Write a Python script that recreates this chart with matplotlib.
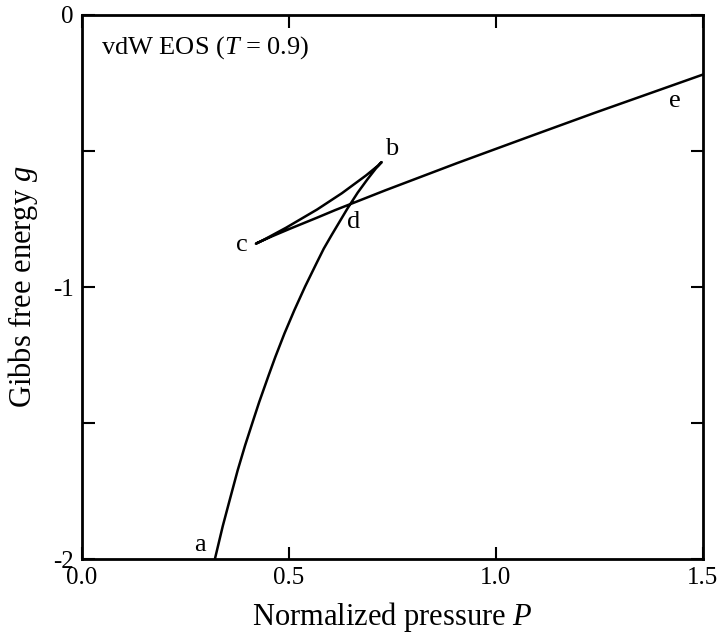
import matplotlib
matplotlib.use("Agg")
import matplotlib.pyplot as plt

plt.rcParams['font.family'] = ['Liberation Serif', 'DejaVu Serif']
plt.rcParams['mathtext.fontset'] = 'custom'
plt.rcParams['mathtext.rm'] = 'Liberation Serif'
plt.rcParams['mathtext.it'] = 'Liberation Serif:italic'
plt.rcParams['axes.unicode_minus'] = False

# Gibbs free energy along the vdW isotherm (gas -> unstable -> liquid)
pressure = [0.321, 0.340, 0.355, 0.376, 0.394, 0.414, 0.428, 0.451, 0.467, 0.489,
            0.513, 0.539, 0.567, 0.584, 0.603, 0.641, 0.666, 0.690, 0.710, 0.721,
            0.724, 0.722, 0.715, 0.686, 0.628, 0.568, 0.493, 0.442, 0.427, 0.420,
            0.423, 0.435, 0.460, 0.502, 0.568, 0.612, 0.732, 0.907, 1.088, 1.238,
            1.500]
gibbs = [-2.000, -1.879, -1.793, -1.674, -1.582, -1.488, -1.423, -1.324, -1.257, -1.171,
         -1.085, -0.998, -0.911, -0.859, -0.809, -0.712, -0.653, -0.603, -0.564, -0.546,
         -0.541, -0.543, -0.554, -0.590, -0.655, -0.715, -0.782, -0.824, -0.836, -0.841,
         -0.838, -0.830, -0.813, -0.786, -0.745, -0.717, -0.645, -0.544, -0.443, -0.360,
         -0.219]

point_labels = ['a', 'b', 'c', 'd', 'e']
label_P = [0.285, 0.748, 0.387, 0.657, 1.432]
label_g = [-1.949, -0.493, -0.846, -0.761, -0.316]

xticks = [0.0, 0.5, 1.0, 1.5]
xticklabels = ['0.0', '0.5', '1.0', '1.5']
yticks = [-2, -1.5, -1, -0.5, 0]
yticklabels = ['-2', '', '-1', '', '0']

fig = plt.figure(figsize=(7.22, 6.38), dpi=100)
ax = fig.add_axes([0.1136, 0.1238, 0.86, 0.8527])

ax.plot(pressure, gibbs, color='black', lw=1.8)

for lab, px, gy in zip(point_labels, label_P, label_g):
    ax.text(px, gy, lab, fontsize=19, ha='center', va='center')

ax.text(0.046, -0.118, r'vdW EOS ($T$ = 0.9)', fontsize=19, ha='left', va='center')

ax.set_xlim(0, 1.5)
ax.set_ylim(-2, 0)
ax.set_xticks(xticks)
ax.set_xticklabels(xticklabels)
ax.set_yticks(yticks)
ax.set_yticklabels(yticklabels)
ax.tick_params(direction='in', length=9, width=1.5, top=True, right=True,
               labelsize=18, pad=6)

for s in ax.spines.values():
    s.set_linewidth(2)

ax.set_xlabel(r'Normalized pressure $P$', fontsize=22, labelpad=8)
ax.set_ylabel(r'Gibbs free energy $g$', fontsize=22, labelpad=9)

fig.savefig('out.png', dpi=100)
